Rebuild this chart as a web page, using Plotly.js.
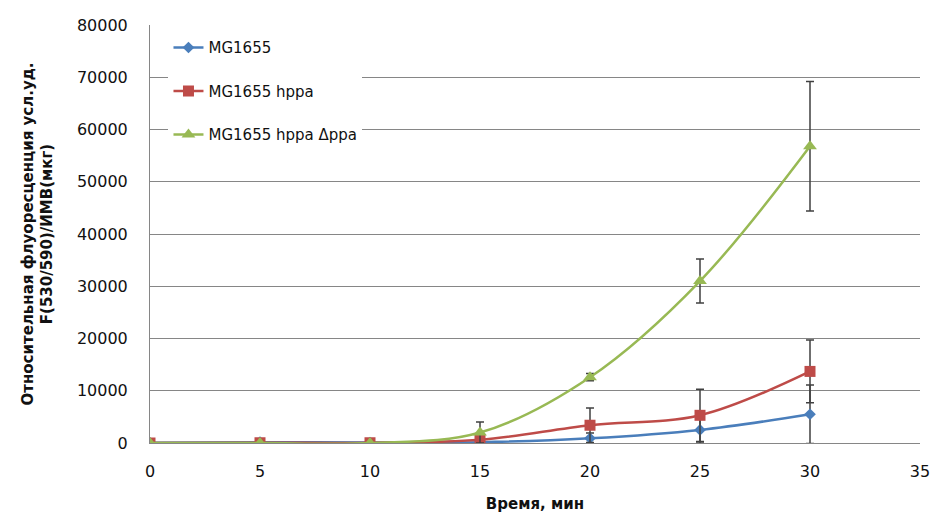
<!DOCTYPE html>
<html>
<head>
<meta charset="utf-8">
<script src="https://cdn.plot.ly/plotly-3.0.1.min.js"></script>
<style>html,body{margin:0;padding:0;background:#fff;}#chart{width:931px;height:513px;}</style>
</head>
<body>
<div id="chart"></div>
<script>
const timeMin = [0, 5, 10, 15, 20, 25, 30];
const seriesNames = ["MG1655", "MG1655 hppa", "MG1655 hppa \u0394ppa"];
const mg1655 = [50, 150, 100, 150, 900, 2500, 5500];
const mg1655Err = [0, 0, 0, 100, 1000, 2500, 5600];
const hppa = [0, 50, 50, 600, 3400, 5300, 13700];
const hppaErr = [0, 0, 0, 200, 3300, 5000, 6000];
const dppa = [0, 0, 0, 2000, 12600, 31000, 56800];
const dppaErr = [0, 0, 0, 2000, 700, 4200, 12400];
const yTicks = [0, 10000, 20000, 30000, 40000, 50000, 60000, 70000, 80000];
const xTicks = [0, 5, 10, 15, 20, 25, 30, 35];

const colors = ["#4A7EBB", "#BE4B48", "#98B954"];
const symbols = ["diamond", "square", "triangle-up"];
const msizes = [9, 11, 12];
const ys = [mg1655, hppa, dppa];
const errs = [mg1655Err, hppaErr, dppaErr];

const FONT = "DejaVu Sans, sans-serif";

const traces = ys.map((y, i) => ({
  x: timeMin, y: y, name: seriesNames[i], type: "scatter", mode: "lines+markers",
  legendgroup: "g" + i,
  line: {color: colors[i], width: 2.5, shape: "spline", smoothing: 1},
  marker: {color: colors[i], symbol: symbols[i], size: msizes[i]},
  error_y: {type: "data", array: errs[i], visible: true, color: "#404040", thickness: 1.5, width: 4}
}));

const layout = {
  width: 931, height: 513,
  margin: {l: 150, r: 11, t: 25, b: 70},
  paper_bgcolor: "#fff", plot_bgcolor: "#fff",
  font: {family: FONT, size: 16, color: "#111"},
  showlegend: true,
  legend: {x: 0.024, y: 0.985, xanchor: "left", yanchor: "top", bgcolor: "#fff",
           font: {family: FONT, size: 15, color: "#111"}, tracegroupgap: 21, itemwidth: 30,
           entrywidth: 236},
  xaxis: {range: [0, 35], tickvals: xTicks, ticktext: xTicks.map(String), showgrid: false,
          zeroline: false, showline: true, linecolor: "#868686", linewidth: 1, ticks: "",
          ticklabelstandoff: 14,
          title: {text: "<b>Время, мин</b>", font: {family: FONT, size: 15}, standoff: 18}},
  yaxis: {range: [0, 80000], tickvals: yTicks, ticktext: yTicks.map(String), showgrid: true,
          gridcolor: "#868686", gridwidth: 1, zeroline: false, showline: true,
          linecolor: "#868686", linewidth: 1, ticks: "", ticklabelstandoff: 18,
          title: {text: "<b>Относительная флуоресценция усл.уд.<br>F(530/590)/ИМВ(мкг)</b>",
                  font: {family: FONT, size: 15}, standoff: 20}}
};

Plotly.newPlot("chart", traces, layout, {displayModeBar: false, responsive: false});
</script>
</body>
</html>
